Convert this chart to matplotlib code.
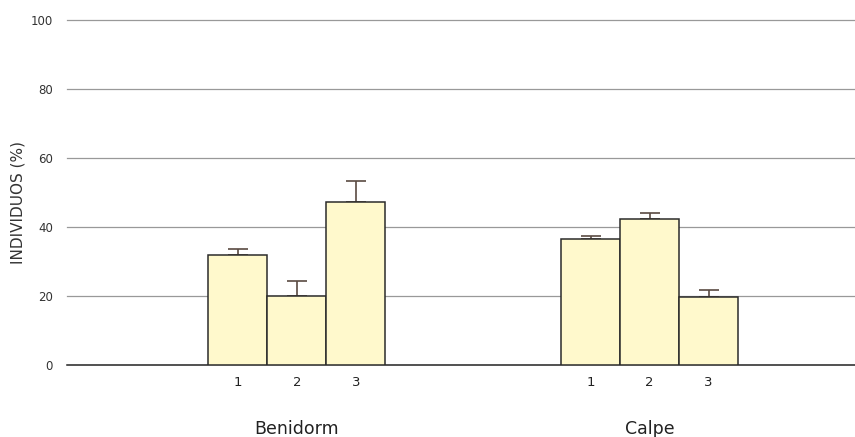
import matplotlib
matplotlib.use("Agg")
import matplotlib.pyplot as plt
import numpy as np

groups = ["Benidorm", "Calpe"]
categories = ["1", "2", "3"]
benidorm_vals = [31.9, 20.0, 47.2]
benidorm_err = [1.7, 4.3, 6.1]
calpe_vals = [36.5, 42.3, 19.7]
calpe_err = [0.9, 1.8, 2.0]
yticks = [0, 20, 40, 60, 80, 100]

fig = plt.figure(figsize=(8.55, 4.37), dpi=100)
ax = fig.add_axes([0.078, 0.165, 0.922, 0.789])

group_centers = [3.9, 9.88]
offsets = np.array([-1, 0, 1])
bar_color = "#FFF9CC"
edge = "#2b2b2b"
err_color = "#5a4a42"

for gc, vals, errs in zip(group_centers, [benidorm_vals, calpe_vals], [benidorm_err, calpe_err]):
    xs = gc + offsets
    ax.bar(xs, vals, width=1.0, color=bar_color, edgecolor=edge, linewidth=1.1, zorder=3)
    ax.errorbar(xs, vals, yerr=[np.zeros(3), errs], fmt="none", ecolor=err_color,
                elinewidth=1.2, capsize=7, capthick=1.2, zorder=2)

ax.set_xlim(0, 13.36)
ax.set_ylim(0, 100)
ax.set_yticks(yticks)
ax.set_yticklabels([str(v) for v in yticks], fontsize=8.5, color="#333333")
ax.tick_params(axis="y", length=0, pad=10)
for v in yticks:
    ax.axhline(v, color="#222222" if v == 0 else "#999999", linewidth=1.1 if v == 0 else 0.9,
               zorder=1, clip_on=False)

xt = np.concatenate([gc + offsets for gc in group_centers])
ax.set_xticks(xt)
ax.set_xticklabels(categories * 2, fontsize=9.5, color="#222222")
ax.tick_params(axis="x", length=0, pad=8)
for gc, g in zip(group_centers, groups):
    ax.text(gc, -18.7, g, ha="center", va="center", fontsize=12.5, color="#222222",
            transform=ax.transData)

for s in ax.spines.values():
    s.set_visible(False)

fig.text(0.021, 0.537, "INDIVIDUOS (%)", rotation=90, ha="center", va="center",
         fontsize=11, color="#333333")

fig.savefig("out.png", dpi=100)
